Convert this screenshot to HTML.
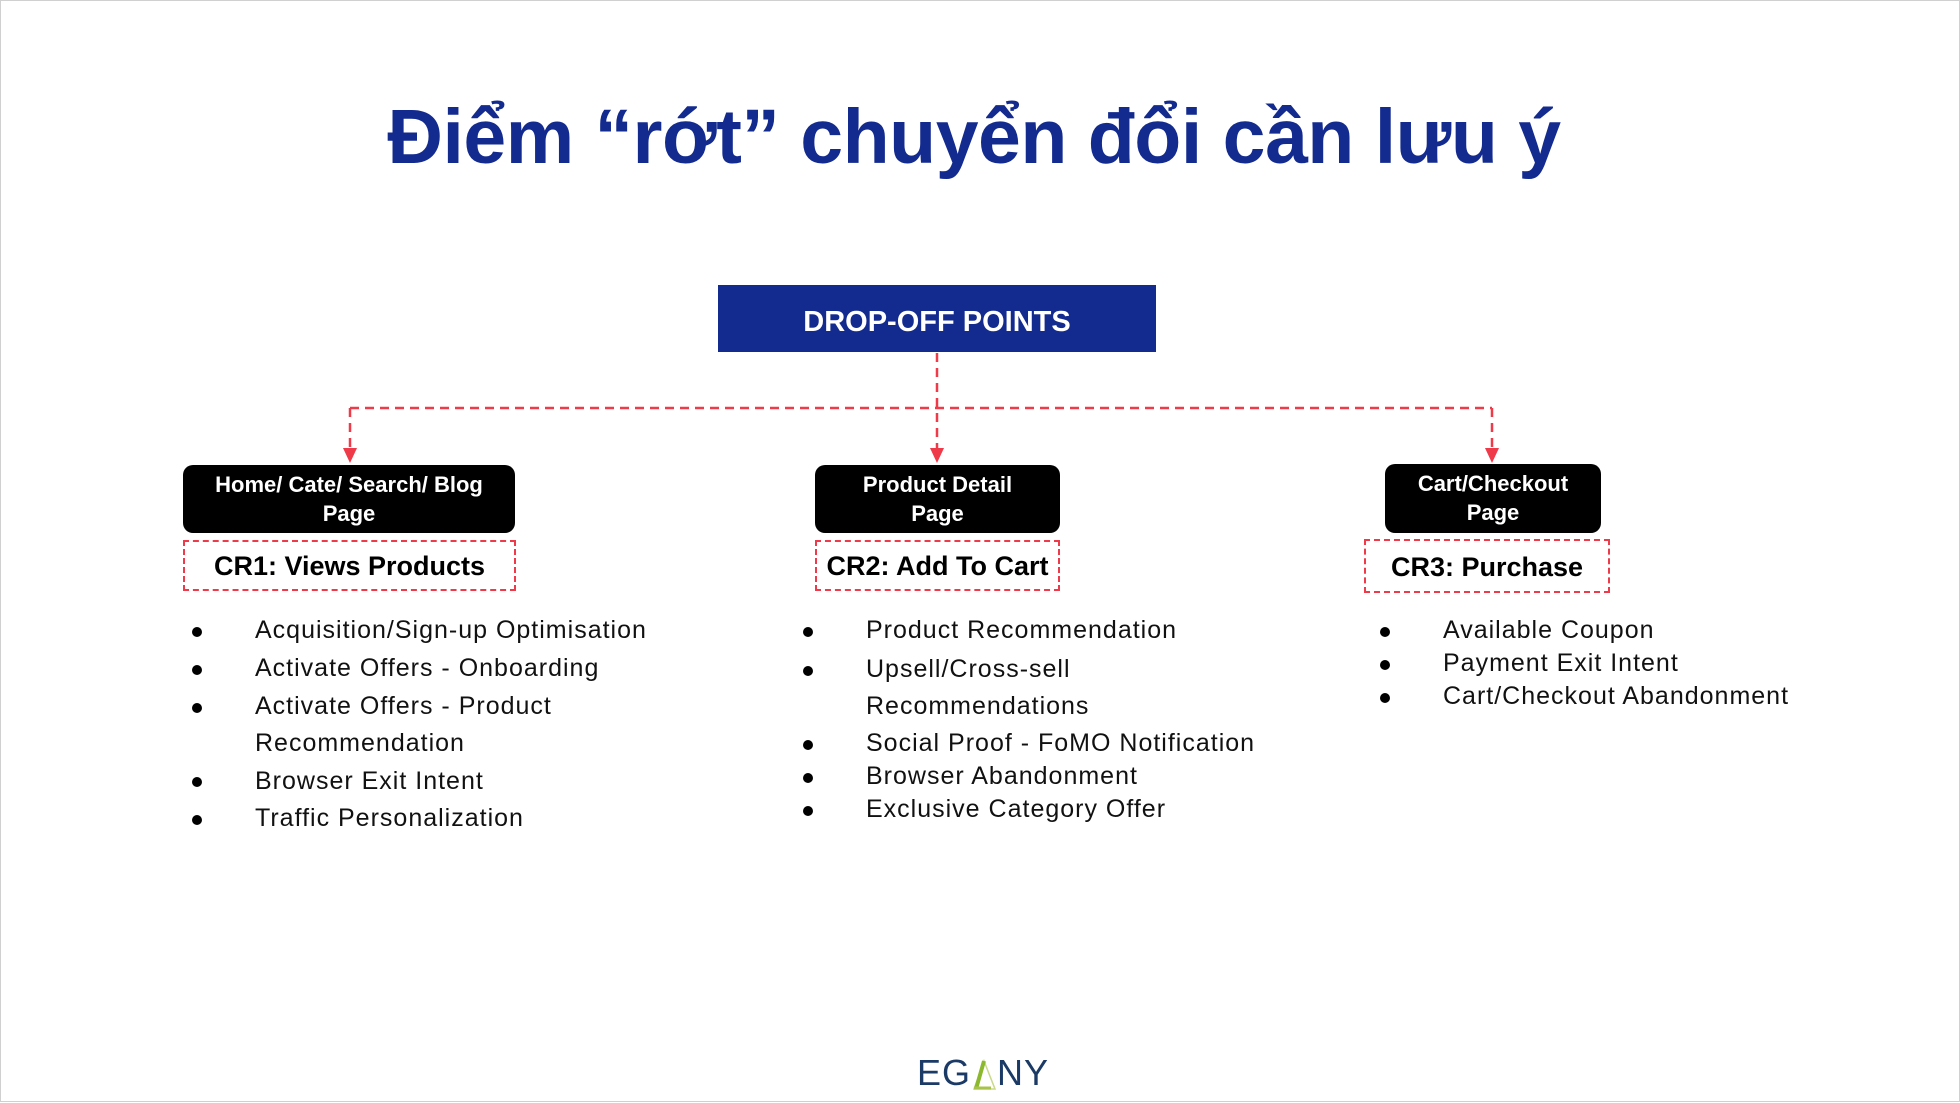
<!DOCTYPE html>
<html><head><meta charset="utf-8"><style>
*{margin:0;padding:0;box-sizing:border-box}
body{width:1960px;height:1102px;background:#fff;position:relative;overflow:hidden;font-family:"Liberation Sans",sans-serif;border:1px solid #d0d0d0}
.a{position:absolute}
.title{left:0;width:1946px;top:92px;text-align:center;font-size:77px;font-weight:bold;color:#132a8f;letter-spacing:-0.5px}
.main{left:717px;top:284px;width:438px;height:67px;background:#132a8f;color:#fff;font-weight:bold;font-size:29px;text-align:center;line-height:75px}
.blk{background:#000;color:#fff;border-radius:10px;font-weight:bold;font-size:22px;text-align:center;line-height:29px;padding-top:5px}
.dsh{border:2.5px dashed #ef3a4a;font-weight:bold;font-size:27px;text-align:center;line-height:48px;color:#000}
.li{font-size:25px;color:#111;line-height:25px;letter-spacing:1px}
.b{position:absolute;width:10px;height:10px;border-radius:50%;background:#000}
</style></head><body>
<div class="a title">Điểm “rớt” chuyển đổi cần lưu ý</div>
<div class="a main">DROP-OFF POINTS</div>
<svg class="a" style="left:0;top:0" width="1960" height="1102">
<g stroke="#ef3a4a" stroke-width="2.5" stroke-dasharray="9,6" fill="none">
<line x1="936" y1="352" x2="936" y2="450"/>
<line x1="349" y1="407" x2="1491" y2="407"/>
<line x1="349" y1="407" x2="349" y2="450"/>
<line x1="1491" y1="407" x2="1491" y2="450"/>
</g>
<g fill="#ef3a4a">
<polygon points="342,447 356,447 349,462"/>
<polygon points="929,447 943,447 936,462"/>
<polygon points="1484,447 1498,447 1491,462"/>
</g>
</svg>
<div class="a blk" style="left:182px;top:464px;width:332px;height:68px">Home/ Cate/ Search/ Blog<br>Page</div>
<div class="a dsh" style="left:182px;top:539px;width:333px;height:51px">CR1: Views Products</div>
<div class="a blk" style="left:814px;top:464px;width:245px;height:68px">Product Detail<br>Page</div>
<div class="a dsh" style="left:814px;top:539px;width:245px;height:51px">CR2: Add To Cart</div>
<div class="a blk" style="left:1384px;top:463px;width:216px;height:69px">Cart/Checkout<br>Page</div>
<div class="a dsh" style="left:1363px;top:538px;width:246px;height:54px;line-height:52px">CR3: Purchase</div>

<div class="b" style="left:191px;top:626px"></div><div class="a li" style="left:254px;top:617px">Acquisition/Sign-up Optimisation</div>
<div class="b" style="left:191px;top:664px"></div><div class="a li" style="left:254px;top:655px">Activate Offers - Onboarding</div>
<div class="b" style="left:191px;top:702px"></div><div class="a li" style="left:254px;top:693px">Activate Offers - Product</div>
<div class="a li" style="left:254px;top:730px">Recommendation</div>
<div class="b" style="left:191px;top:776px"></div><div class="a li" style="left:254px;top:768px">Browser Exit Intent</div>
<div class="b" style="left:191px;top:814px"></div><div class="a li" style="left:254px;top:805px">Traffic Personalization</div>

<div class="b" style="left:802px;top:626px"></div><div class="a li" style="left:865px;top:617px">Product Recommendation</div>
<div class="b" style="left:802px;top:665px"></div><div class="a li" style="left:865px;top:656px">Upsell/Cross-sell</div>
<div class="a li" style="left:865px;top:693px">Recommendations</div>
<div class="b" style="left:802px;top:739px"></div><div class="a li" style="left:865px;top:730px">Social Proof - FoMO Notification</div>
<div class="b" style="left:802px;top:772px"></div><div class="a li" style="left:865px;top:763px">Browser Abandonment</div>
<div class="b" style="left:802px;top:805px"></div><div class="a li" style="left:865px;top:796px">Exclusive Category Offer</div>

<div class="b" style="left:1379px;top:626px"></div><div class="a li" style="left:1442px;top:617px">Available Coupon</div>
<div class="b" style="left:1379px;top:659px"></div><div class="a li" style="left:1442px;top:650px">Payment Exit Intent</div>
<div class="b" style="left:1379px;top:692px"></div><div class="a li" style="left:1442px;top:683px">Cart/Checkout Abandonment</div>

<div class="a" style="left:916px;top:1052px;font-size:36px;color:#1b3a66;letter-spacing:1px;line-height:40px">EG<span style="display:inline-block;width:26px;position:relative"><svg width="26" height="32" style="position:absolute;left:0;top:-26px"><polygon points="13,2 3,30 24,30" fill="none" stroke="#c8d98a" stroke-width="1.5"/><line x1="13" y1="2" x2="5" y2="30" stroke="#8cb82e" stroke-width="4"/><line x1="3" y1="29" x2="20" y2="29" stroke="#a8c34a" stroke-width="3"/></svg></span>NY</div>
</body></html>
